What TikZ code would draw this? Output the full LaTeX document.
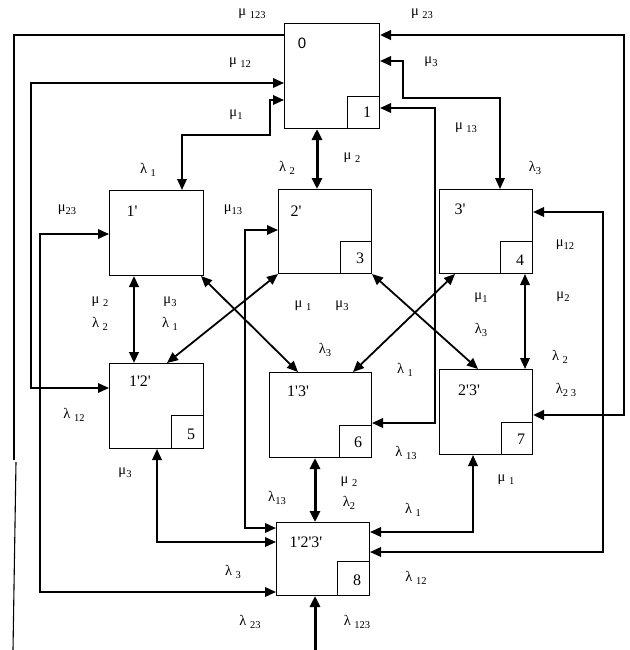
\documentclass[tikz,border=0pt]{standalone}
\usepackage{fontspec}
\setmainfont{Liberation Serif}[Ligatures=TeXOff]
\newfontfamily\sansf{Liberation Sans}
\usetikzlibrary{arrows.meta}
\newcommand{\sbs}[1]{\raisebox{-0.35ex}{\fontsize{10.5pt}{10.5pt}\selectfont #1}}
\begin{document}
\begin{tikzpicture}[x=1pt,y=-1pt,
  box/.style={draw, line width=1pt, inner sep=0pt, anchor=north west},
  sbox/.style={draw, line width=1pt, inner sep=0pt, anchor=south east, minimum width=32pt, minimum height=32pt},
  blab/.style={inner sep=0pt, font=\fontsize{16pt}{16pt}\selectfont},
  snum/.style={inner sep=0pt, font=\fontsize{16pt}{16pt}\selectfont},
  lbl/.style={inner sep=0pt, font=\fontsize{14.5pt}{14.5pt}\selectfont},
  ln/.style={line width=1.8pt},
  dbl/.style={line width=1.8pt, {Triangle[length=11pt,width=9.5pt]}-{Triangle[length=11pt,width=9.5pt]}},
  thk/.style={line width=3pt, {Triangle[length=11pt,width=10pt]}-{Triangle[length=11pt,width=10pt]}},
  one/.style={line width=3pt, -{Triangle[length=11pt,width=10pt]}}
]
\useasboundingbox (0,0) rectangle (629,650);
% boxes
\node[box, minimum width=95pt, minimum height=105pt] (b0) at (284,23) {};
\node[sbox] (s0) at (b0.south east) {};
\node[box, minimum width=94pt, minimum height=85pt] (b1) at (109,190) {};
\node[box, minimum width=93pt, minimum height=84pt] (b2) at (278,189) {};
\node[sbox, minimum width=31pt] (s2) at (b2.south east) {};
\node[box, minimum width=93pt, minimum height=84pt] (b3) at (439,189) {};
\node[sbox] (s3) at (b3.south east) {};
\node[box, minimum width=94pt, minimum height=85pt] (b12) at (109,363) {};
\node[sbox, minimum height=33pt] (s12) at (b12.south east) {};
\node[box, minimum width=102pt, minimum height=85pt] (b13) at (269,372) {};
\node[sbox] (s13) at (b13.south east) {};
\node[box, minimum width=93pt, minimum height=85pt] (b23) at (439,369) {};
\node[sbox, minimum width=31pt] (s23) at (b23.south east) {};
\node[box, minimum width=93pt, minimum height=73pt] (b123) at (276,522) {};
\node[sbox, minimum height=34pt] (s123) at (b123.south east) {};
% box labels
\node[blab, font=\sansf\fontsize{15pt}{15pt}\selectfont] (t0) at (302,43) {0};
\node[blab] (t1) at (132,211) {1'};
\node[blab] (t2) at (296,211) {2'};
\node[blab] (t3) at (460,209) {3'};
\node[blab] (t12) at (140,381) {1'2'};
\node[blab] (t13) at (298,391) {1'3'};
\node[blab] (t23) at (469,390) {2'3'};
\node[blab] (t123) at (306,542) {1'2'3'};
\node[snum] (n0) at (367,112) {1};
\node[snum] (n2) at (360,258) {3};
\node[snum] (n3) at (520,260) {4};
\node[snum] (n12) at (191,434) {5};
\node[snum] (n13) at (358,442) {6};
\node[snum] (n23) at (521,439) {7};
\node[snum] (n123) at (357,580) {8};
% connectors
\coordinate (c123a) at (14,460);
\coordinate (c123b) at (16,462);
\coordinate (c123c) at (13,650);
\draw[ln] ([yshift=-12pt]b0.north west) -| (c123a);
\draw[line width=1.1pt] (c123b) -- (c123c);
\draw[dbl] ([yshift=-60pt]b0.north west) -- (31,83) -- (31,388) -- ([yshift=-25pt]b12.north west);
\draw[dbl] ([yshift=-77pt]b0.north west) -- (270,100) -- (270,135) -- (182,135) -- ([xshift=73pt]b1.north west);
\draw[thk] ([xshift=33pt]b0.south west) -- ([xshift=39pt]b2.north west);
\draw[dbl, line width=2.6pt] ([yshift=-12pt]b0.north east) -- (624,35) -- (624,415) -- ([yshift=-46pt]b23.north east);
\draw[dbl] ([yshift=-38pt]b0.north east) -- (403,61) -- (403,98) -- (500,98) -- ([xshift=61pt]b3.north west);
\draw[dbl] ([yshift=-85pt]b0.north east) -- (435,108) -- (435,423) -- ([yshift=-51pt]b13.north east);
\draw[dbl] ([yshift=-23pt]b3.north east) -- (603,212) -- (603,552) -- ([yshift=-30pt]b123.north east);
\draw[dbl] ([yshift=-44pt]b1.north west) -- (40,234) -- (40,592) -- ([yshift=-70pt]b123.north west);
\draw[dbl] ([yshift=-41pt]b2.north west) -- (245,230) -- (245,528) -- ([yshift=-6pt]b123.north west);
\draw[dbl] ([xshift=48pt]b12.south west) -- (157,542) -- ([yshift=-20pt]b123.north west);
\draw[dbl, line width=2.4pt] ([xshift=25pt]b1.south west) -- ([xshift=25pt]b12.north west);
\draw[dbl] ([xshift=-3pt]b1.south east) -- ([xshift=29pt]b13.north west);
\draw[dbl] (b2.south west) -- ([xshift=58pt]b12.north west);
\draw[dbl] (s2.south east) -- ([xshift=39pt]b23.north west);
\draw[dbl] ([xshift=16pt]b3.south west) -- ([xshift=84pt]b13.north west);
\draw[dbl] ([xshift=86pt]b3.south west) -- ([xshift=86pt]b23.north west);
\draw[thk] ([xshift=46pt]b13.south west) -- ([xshift=39pt]b123.north west);
\draw[dbl] ([xshift=34pt]b23.south west) -- (473,532) -- ([yshift=-10pt]b123.north east);
\coordinate (bot) at (315,650);
\draw[one] (bot) -- ([xshift=39pt]b123.south west);
% labels
\node[lbl] (l1) at (252,14) {μ \sbs{123}};
\node[lbl] (l2) at (422,14) {μ \sbs{23}};
\node[lbl] (l3) at (240,63) {μ \sbs{12}};
\node[lbl] (l4) at (431,62) {μ\sbs{3}};
\node[lbl] (l5) at (236,115) {μ\sbs{1}};
\node[lbl] (l6) at (466,128) {μ \sbs{13}};
\node[lbl] (l7) at (148,170) {λ \sbs{1}};
\node[lbl] (l8) at (287,168) {λ \sbs{2}};
\node[lbl] (l9) at (352,158) {μ \sbs{2}};
\node[lbl] (l10) at (535,168) {λ\sbs{3}};
\node[lbl] (l11) at (67,210) {μ\sbs{23}};
\node[lbl] (l12) at (233,210) {μ\sbs{13}};
\node[lbl] (l13) at (565,245) {μ\sbs{12}};
\node[lbl] (l14) at (100,302) {μ \sbs{2}};
\node[lbl] (l15) at (100,324) {λ \sbs{2}};
\node[lbl] (l16) at (170,302) {μ\sbs{3}};
\node[lbl] (l17) at (170,324) {λ \sbs{1}};
\node[lbl] (l18) at (303,306) {μ \sbs{1}};
\node[lbl] (l19) at (342,306) {μ\sbs{3}};
\node[lbl] (l20) at (481,298) {μ\sbs{1}};
\node[lbl] (l21) at (563,297) {μ\sbs{2}};
\node[lbl] (l22) at (481,330) {λ\sbs{3}};
\node[lbl] (l23) at (325,350) {λ\sbs{3}};
\node[lbl] (l24) at (405,370) {λ \sbs{1}};
\node[lbl] (l25) at (560,357) {λ \sbs{2}};
\node[lbl] (l26) at (566,390) {λ\sbs{2 3}};
\node[lbl] (l27) at (74,415) {λ \sbs{12}};
\node[lbl] (l28) at (406,453) {λ \sbs{13}};
\node[lbl] (l29) at (125,473) {μ\sbs{3}};
\node[lbl] (l30) at (349,482) {μ \sbs{2}};
\node[lbl] (l31) at (349,503) {λ\sbs{2}};
\node[lbl] (l32) at (506,480) {μ \sbs{1}};
\node[lbl] (l33) at (277,498) {λ\sbs{13}};
\node[lbl] (l34) at (413,510) {λ \sbs{1}};
\node[lbl] (l35) at (233,572) {λ \sbs{3}};
\node[lbl] (l36) at (416,578) {λ \sbs{12}};
\node[lbl] (l37) at (250,622) {λ \sbs{23}};
\node[lbl] (l38) at (357,622) {λ \sbs{123}};
\end{tikzpicture}
\end{document}
